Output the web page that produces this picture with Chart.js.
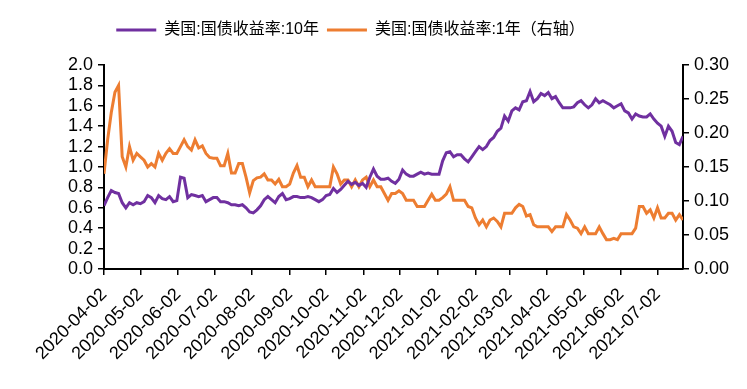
<!DOCTYPE html>
<html>
<head>
<meta charset="utf-8">
<script src="https://cdn.jsdelivr.net/npm/chart.js@4.4.0/dist/chart.umd.min.js"></script>
<style>
    html, body { margin: 0; padding: 0; background: #fff; }
    #wrap { width: 747px; height: 389px; }
</style>
</head>
<body>
<div id="wrap"><canvas id="yield-chart" width="747" height="389"></canvas></div>
<script>
// Data (one value every 3 days)
const startDate = '2020-04-02';
const stepDays = 3;

const yield10Y = [
    0.62, 0.70, 0.77, 0.75, 0.74, 0.65, 0.60, 0.65, 0.63, 0.65,
    0.64, 0.66, 0.72, 0.70, 0.65, 0.72, 0.69, 0.68, 0.71, 0.66,
    0.67, 0.90, 0.89, 0.70, 0.73, 0.72, 0.71, 0.72, 0.66, 0.68,
    0.70, 0.70, 0.66, 0.66, 0.65, 0.63, 0.63, 0.62, 0.63, 0.60,
    0.56, 0.55, 0.58, 0.62, 0.68, 0.71, 0.68, 0.65, 0.71, 0.74,
    0.68, 0.69, 0.71, 0.71, 0.70, 0.70, 0.71, 0.70, 0.68, 0.66,
    0.68, 0.72, 0.73, 0.79, 0.75, 0.78, 0.82, 0.86, 0.83, 0.85,
    0.82, 0.84, 0.80, 0.90, 0.98, 0.91, 0.88, 0.88, 0.89, 0.86,
    0.84, 0.88, 0.97, 0.93, 0.91, 0.91, 0.93, 0.95, 0.93, 0.94,
    0.93, 0.93, 0.93, 1.06, 1.14, 1.15, 1.10, 1.12, 1.12, 1.08,
    1.05, 1.10, 1.15, 1.20, 1.17, 1.20, 1.26, 1.29, 1.35, 1.38,
    1.50, 1.45, 1.55, 1.58, 1.56, 1.64, 1.65, 1.74, 1.64, 1.67,
    1.72, 1.70, 1.73, 1.67, 1.69, 1.63, 1.58, 1.58, 1.58, 1.59,
    1.63, 1.65, 1.61, 1.58, 1.61, 1.67, 1.63, 1.65, 1.63, 1.61,
    1.58, 1.60, 1.62, 1.55, 1.53, 1.47, 1.52, 1.50, 1.49, 1.49,
    1.52, 1.47, 1.43, 1.40, 1.30, 1.40, 1.35, 1.24, 1.22, 1.30
];

const yield1Y = [
    0.14, 0.19, 0.23, 0.26, 0.27, 0.165, 0.15, 0.18, 0.16, 0.17,
    0.165, 0.16, 0.15, 0.155, 0.15, 0.17, 0.16, 0.17, 0.177, 0.17,
    0.17, 0.18, 0.19, 0.18, 0.175, 0.19, 0.178, 0.181, 0.17, 0.164,
    0.163, 0.163, 0.152, 0.152, 0.17, 0.141, 0.141, 0.155, 0.155, 0.135,
    0.112, 0.13, 0.134, 0.135, 0.14, 0.131, 0.131, 0.125, 0.132, 0.121,
    0.121, 0.125, 0.141, 0.152, 0.135, 0.135, 0.121, 0.131, 0.121, 0.121,
    0.121, 0.121, 0.121, 0.15, 0.14, 0.125, 0.131, 0.131, 0.121, 0.131,
    0.121, 0.131, 0.135, 0.121, 0.131, 0.121, 0.121, 0.111, 0.101, 0.111,
    0.111, 0.115, 0.111, 0.101, 0.101, 0.101, 0.092, 0.092, 0.092, 0.101,
    0.11, 0.101, 0.101, 0.105, 0.11, 0.121, 0.101, 0.101, 0.101, 0.101,
    0.092, 0.09, 0.075, 0.065, 0.072, 0.062, 0.072, 0.075, 0.07, 0.062,
    0.082, 0.082, 0.082, 0.09, 0.095, 0.092, 0.078, 0.08, 0.065, 0.062,
    0.062, 0.062, 0.062, 0.055, 0.062, 0.062, 0.062, 0.08, 0.072, 0.062,
    0.06, 0.052, 0.062, 0.052, 0.052, 0.052, 0.062, 0.052, 0.043, 0.043,
    0.045, 0.043, 0.052, 0.052, 0.052, 0.052, 0.06, 0.092, 0.092, 0.082,
    0.087, 0.075, 0.09, 0.075, 0.075, 0.082, 0.082, 0.072, 0.08, 0.072
];

const tickLabels = [
    '2020-04-02', '2020-05-02', '2020-06-02', '2020-07-02', '2020-08-02',
    '2020-09-02', '2020-10-02', '2020-11-02', '2020-12-02', '2021-01-02',
    '2021-02-02', '2021-03-02', '2021-04-02', '2021-05-02', '2021-06-02',
    '2021-07-02'
];

const seriesNames = ['美国:国债收益率:10年', '美国:国债收益率:1年（右轴）'];

// Helpers
function dayOffset(dateStr) {
    return (Date.parse(dateStr) - Date.parse(startDate)) / 86400000;
}

const dates = yield10Y.map((_, i) => {
    const d = new Date(Date.parse(startDate) + i * stepDays * 86400000);
    return d.toISOString().split('T')[0];
});

const tickDays = tickLabels.map(dayOffset);
const lastDay = dayOffset(dates[dates.length - 1]);

const fontFamily = '"Liberation Sans", "Noto Sans CJK SC", sans-serif';

// Nudge the legend up and a bit left, like the original
const legendShift = {
    id: 'legendShift',
    afterLayout(chart) {
        const legend = chart.legend;
        legend.left -= 23;
        legend.right -= 23;
        legend.top -= 17;
        legend.bottom -= 17;
    }
};

// Create chart
const canvas = document.getElementById('yield-chart');
window.yieldChart = new Chart(canvas, {
    type: 'line',
    data: {
        datasets: [
            {
                label: seriesNames[0],
                data: dates.map((d, i) => ({ x: dayOffset(d), y: yield10Y[i] })),
                borderColor: '#7030A0',
                backgroundColor: '#7030A0',
                borderWidth: 3,
                pointRadius: 0,
                yAxisID: 'y'
            },
            {
                label: seriesNames[1],
                data: dates.map((d, i) => ({ x: dayOffset(d), y: yield1Y[i] })),
                borderColor: '#ED7D31',
                backgroundColor: '#ED7D31',
                borderWidth: 3,
                pointRadius: 0,
                yAxisID: 'y1'
            }
        ]
    },
    plugins: [legendShift],
    options: {
        responsive: false,
        animation: false,
        layout: {
            padding: { top: 8 }
        },
        plugins: {
            legend: {
                position: 'top',
                labels: {
                    usePointStyle: true,
                    pointStyle: 'line',
                    pointStyleWidth: 40,
                    padding: 8,
                    color: '#000',
                    font: { family: fontFamily, size: 16 }
                }
            },
            tooltip: { enabled: false }
        },
        scales: {
            x: {
                type: 'linear',
                min: 0,
                max: lastDay,
                afterBuildTicks: function(scale) {
                    scale.ticks = tickDays.map(v => ({ value: v }));
                },
                afterFit: function(scale) {
                    scale.height = 120;
                    scale.paddingLeft = 0;
                    scale.paddingRight = 0;
                },
                ticks: {
                    autoSkip: false,
                    maxRotation: 45,
                    minRotation: 45,
                    padding: 9,
                    color: '#000',
                    font: { family: fontFamily, size: 18 },
                    callback: function(value, index) {
                        return tickLabels[index];
                    }
                },
                grid: { drawOnChartArea: false, color: '#000', tickLength: 6, lineWidth: 1.5 },
                border: { color: '#000', width: 2 }
            },
            y: {
                position: 'left',
                min: 0,
                max: 2,
                afterFit: function(scale) {
                    scale.width = 104;
                    scale.paddingTop = 65;
                },
                ticks: {
                    stepSize: 0.2,
                    autoSkip: false,
                    padding: 5,
                    color: '#000',
                    font: { family: fontFamily, size: 18 },
                    callback: function(value) {
                        return value.toFixed(1);
                    }
                },
                grid: { drawOnChartArea: false, color: '#000', tickLength: 6, lineWidth: 1.5 },
                border: { color: '#000', width: 2 }
            },
            y1: {
                position: 'right',
                min: 0,
                max: 0.3,
                afterFit: function(scale) {
                    scale.width = 64;
                },
                ticks: {
                    stepSize: 0.05,
                    autoSkip: false,
                    padding: 5,
                    color: '#000',
                    font: { family: fontFamily, size: 18 },
                    callback: function(value) {
                        return value.toFixed(2);
                    }
                },
                grid: { drawOnChartArea: false, color: '#000', tickLength: 6, lineWidth: 1.5 },
                border: { color: '#000', width: 2 }
            }
        }
    }
});
</script>
</body>
</html>
